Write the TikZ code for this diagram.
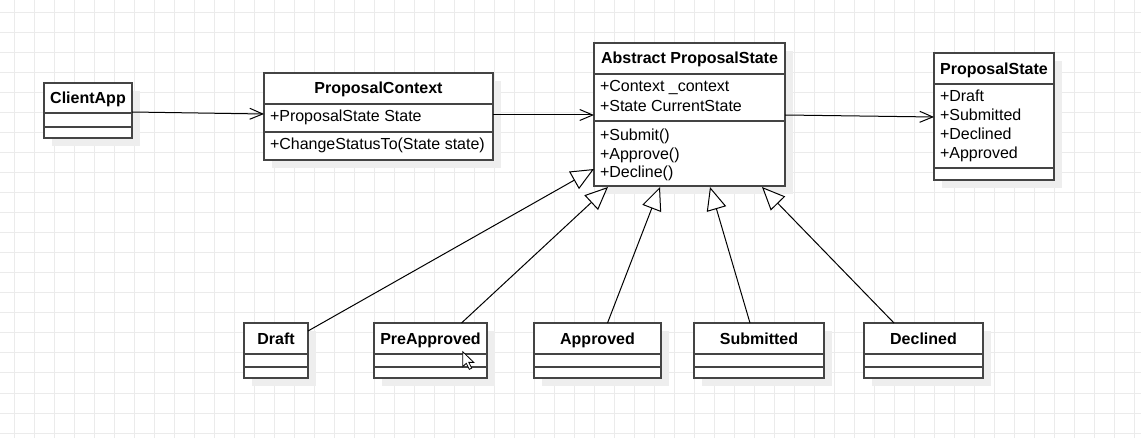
\documentclass[tikz,border=0pt]{standalone}
\usepackage{fontspec}
\setmainfont{Liberation Sans}
\usetikzlibrary{arrows.meta,calc}
\definecolor{gridc}{HTML}{EBEBEB}
\definecolor{shadec}{HTML}{EEEEEE}
\definecolor{boxc}{HTML}{444444}
\newcommand\umlbox[7]{%
  \fill[shadec] ({#2+8},{#3+8}) rectangle ({#4+8},{#5+8});
  \node[cls, minimum width={#4-#2}, minimum height={#5-#3}] (#1) at (#2,#3) {};
  \draw[clsline] (#2,#6) -- (#4,#6);
  \draw[clsline] (#2,#7) -- (#4,#7);
}
\tikzset{
  every node/.style={font=\fontsize{16}{19}\selectfont, inner sep=0pt, outer sep=0pt},
  cls/.style={draw=boxc, fill=white, line width=1.6pt, anchor=north west},
  clsline/.style={draw=boxc, line width=1.6pt},
  hdr/.style={font=\fontsize{16}{19}\selectfont\bfseries, anchor=base},
  attr/.style={anchor=base west},
  assoc/.style={draw=black, line width=1pt, -{Straight Barb[length=13pt,width=11pt]}},
  inherit/.style={draw=black, line width=1pt, -{Triangle[open, length=23pt, width=20pt, fill=white]}},
}
\begin{document}
\begin{tikzpicture}[x=1pt,y=-1pt]
\useasboundingbox (0,0) rectangle (1141,438);
\fill[white] (0,0) rectangle (1141,438);
% grid
\foreach \gx in {14,34,...,1134} \draw[gridc, line width=1pt] (\gx,0) -- (\gx,438);
\foreach \gy in {13,33,...,433} \draw[gridc, line width=1pt] (0,\gy) -- (1141,\gy);

% classes
\umlbox{client}{44}{83}{132}{138}{113}{127}
\node[hdr] (client-h) at (88,104) {ClientApp};

\umlbox{ctx}{264}{73}{493}{160}{104}{132}
\node[hdr] (ctx-h) at (378.5,94) {ProposalContext};
\node[attr] (ctx-a1) at (270,122) {+ProposalState State};
\node[attr] (ctx-m1) at (270,150) {+ChangeStatusTo(State state)};

\umlbox{abs}{594}{43}{785}{186}{74}{121}
\node[hdr] (abs-h) at (689.5,64) {Abstract ProposalState};
\node[attr] (abs-a1) at (600,92) {+Context \_context};
\node[attr] (abs-a2) at (600,111.3) {+State CurrentState};
\node[attr] (abs-m1) at (600,140.8) {+Submit()};
\node[attr] (abs-m2) at (600,159.2) {+Approve()};
\node[attr] (abs-m3) at (600,177.5) {+Decline()};

\umlbox{ps}{934}{53}{1054}{180}{84}{168}
\node[hdr] (ps-h) at (994,74.2) {ProposalState};
\node[attr] (ps-a1) at (940,102) {+Draft};
\node[attr] (ps-a2) at (940,120.7) {+Submitted};
\node[attr] (ps-a3) at (940,139.4) {+Declined};
\node[attr] (ps-a4) at (940,158.1) {+Approved};

\umlbox{draft}{244}{323}{308}{378}{354}{367}
\node[hdr] (draft-h) at (276,344.5) {Draft};
\umlbox{pre}{374}{323}{487}{378}{354}{367}
\node[hdr] (pre-h) at (430.5,344.5) {PreApproved};
\umlbox{appr}{534}{323}{661}{378}{354}{367}
\node[hdr] (appr-h) at (597.5,344.5) {Approved};
\umlbox{sub}{694}{323}{824}{378}{354}{367}
\node[hdr] (sub-h) at (759,344.5) {Submitted};
\umlbox{dec}{864}{323}{983}{378}{354}{367}
\node[hdr] (dec-h) at (923.5,344.5) {Declined};

% associations
\draw[assoc] ($(client.north east)+(0,29)$) -- ($(ctx.north west)+(0,41)$);
\draw[assoc] ($(ctx.north east)+(0,42)$) -- ($(abs.north west)+(0,72)$);
\draw[assoc] ($(abs.north east)+(0,72)$) -- ($(ps.north west)+(0,64)$);

% inheritance
\draw[inherit] ($(draft.north east)+(0,8)$) -- ($(abs.south west)+(0,-17)$);
\draw[inherit] ($(pre.north)+(31,0)$) -- ($(abs.south west)+(14,1)$);
\draw[inherit] ($(appr.north)+(10,0)$) -- ($(abs.south west)+(66,1)$);
\draw[inherit] ($(sub.north)+(-9,0)$) -- ($(abs.south west)+(116,1)$);
\draw[inherit] ($(dec.north)+(-29.5,0)$) -- ($(abs.south west)+(168,1)$);

% mouse cursor
\draw[black, fill=white, line width=0.8pt, line join=miter]
  (462.7,351.7) -- ++(0,15) -- ++(3.6,-3.4) -- ++(3,6) -- ++(2.4,-1.1) -- ++(-2.9,-5.8) -- ++(5,0) -- cycle;
\end{tikzpicture}
\end{document}
